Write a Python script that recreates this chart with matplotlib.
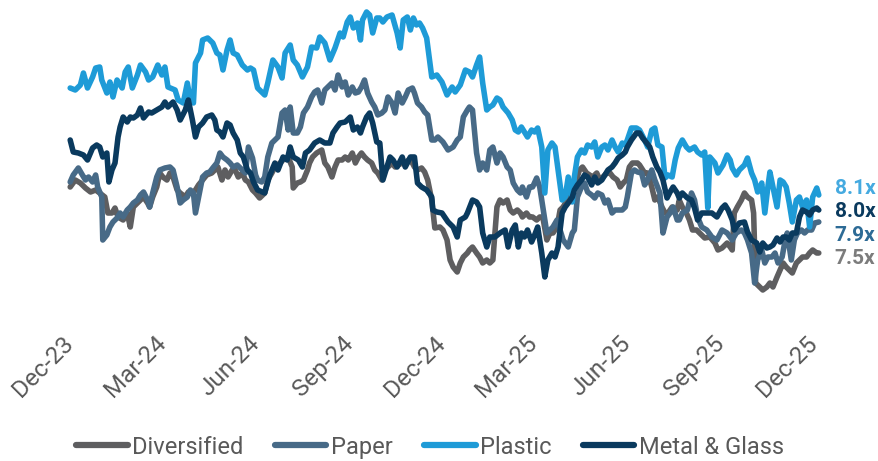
import numpy as np
import matplotlib
matplotlib.use("Agg")
import matplotlib.pyplot as plt
import matplotlib.transforms as mtransforms

# ---------------- data (days since 2023-12-01, EV/EBITDA multiple) ----------------
start_date = "2023-12-01"

series_names = ["Diversified", "Paper", "Plastic", "Metal & Glass"]

diversified_days = [0, 5, 10, 15, 20, 25, 29, 34, 37, 41,
                    44, 47, 52, 56, 59, 62, 66, 69, 72, 76,
                    78, 81, 85, 88, 91, 95, 98, 101, 105, 108,
                    113, 116, 120, 123, 126, 130, 134, 139, 142, 145,
                    149, 152, 155, 159, 162, 165, 169, 172, 175, 179,
                    182, 186, 191, 194, 198, 201, 206, 211, 214, 218,
                    219, 223, 226, 229, 233, 235, 238, 242, 247, 250,
                    253, 257, 260, 263, 267, 270, 273, 277, 280, 283,
                    286, 289, 292, 296, 299, 302, 306, 309, 312, 316,
                    319, 322, 326, 329, 332, 336, 338, 341, 345, 348,
                    351, 355, 358, 363, 366, 370, 373, 376, 380, 383,
                    386, 390, 392, 395, 399, 402, 405, 409, 412, 415,
                    419, 422, 425, 429, 432, 435, 439, 442, 444, 448,
                    451, 454, 458, 461, 464, 468, 471, 474, 478, 481,
                    484, 488, 491, 494, 497, 500, 503, 507, 510, 513,
                    517, 520, 523, 527, 530, 533, 537, 540, 543, 546,
                    549, 552, 557, 559, 564, 567, 571, 574, 577, 581,
                    584, 587, 591, 596, 598, 601, 605, 608, 611, 615,
                    618, 623, 628, 633, 636, 640, 645, 648, 650, 652,
                    655, 659, 662, 665, 669, 671, 673, 677, 680, 684,
                    687, 690, 694, 697, 700, 703, 706, 709, 713, 716,
                    719, 723, 726, 729, 733, 735]
diversified_vals = [8.23, 8.30, 8.27, 8.22, 8.18, 8.20, 8.17, 8.13, 7.97, 7.97,
                    8.02, 7.93, 7.90, 7.97, 7.83, 8.03, 8.07, 8.10, 8.13, 8.07,
                    8.03, 8.13, 8.23, 8.37, 8.33, 8.30, 8.37, 8.33, 8.20, 8.17,
                    8.13, 8.18, 8.17, 8.20, 8.25, 8.30, 8.35, 8.37, 8.40, 8.43,
                    8.30, 8.40, 8.33, 8.40, 8.40, 8.33, 8.37, 8.30, 8.28, 8.20,
                    8.17, 8.12, 8.17, 8.30, 8.37, 8.43, 8.47, 8.52, 8.53, 8.43,
                    8.22, 8.27, 8.28, 8.30, 8.40, 8.47, 8.53, 8.57, 8.60, 8.47,
                    8.43, 8.33, 8.43, 8.50, 8.50, 8.53, 8.50, 8.57, 8.47, 8.53,
                    8.57, 8.53, 8.50, 8.47, 8.40, 8.37, 8.30, 8.40, 8.43, 8.47,
                    8.43, 8.45, 8.47, 8.45, 8.50, 8.47, 8.43, 8.40, 8.42, 8.38,
                    8.30, 8.10, 7.82, 7.83, 7.80, 7.70, 7.50, 7.43, 7.38, 7.47,
                    7.53, 7.57, 7.60, 7.63, 7.57, 7.53, 7.47, 7.50, 7.47, 7.50,
                    8.03, 8.10, 8.07, 8.10, 8.00, 7.97, 8.00, 7.97, 7.93, 7.97,
                    7.93, 7.93, 7.90, 7.93, 7.93, 7.70, 7.77, 7.77, 7.83, 8.00,
                    8.03, 8.10, 8.17, 8.23, 8.30, 8.40, 8.43, 8.37, 8.35, 8.33,
                    8.37, 8.30, 8.33, 8.37, 8.37, 8.33, 8.30, 8.23, 8.27, 8.30,
                    8.43, 8.47, 8.47, 8.45, 8.37, 8.37, 8.23, 8.10, 8.13, 8.03,
                    7.97, 7.97, 8.03, 8.00, 8.10, 8.03, 7.97, 7.90, 7.80, 7.80,
                    7.77, 7.72, 7.73, 7.67, 7.60, 7.62, 7.67, 7.63, 7.60, 7.97,
                    8.03, 8.10, 8.17, 8.13, 8.10, 7.97, 7.27, 7.23, 7.20, 7.23,
                    7.27, 7.23, 7.33, 7.40, 7.47, 7.43, 7.40, 7.37, 7.47, 7.50,
                    7.53, 7.53, 7.57, 7.60, 7.57, 7.57]

paper_days = [0, 3, 8, 12, 15, 18, 22, 25, 27, 31,
              32, 36, 39, 42, 46, 49, 52, 56, 59, 62,
              66, 69, 72, 76, 78, 81, 85, 88, 93, 98,
              101, 105, 108, 111, 115, 118, 121, 123, 128, 130,
              134, 137, 140, 144, 147, 150, 154, 157, 160, 164,
              169, 172, 175, 179, 182, 184, 188, 191, 194, 198,
              201, 204, 208, 211, 214, 216, 219, 223, 226, 229,
              233, 237, 240, 243, 247, 250, 253, 257, 260, 263,
              267, 270, 273, 277, 280, 283, 286, 289, 292, 296,
              299, 302, 306, 309, 312, 316, 319, 322, 326, 329,
              332, 336, 338, 341, 345, 348, 351, 355, 358, 361,
              366, 371, 376, 380, 383, 386, 390, 392, 395, 399,
              402, 405, 409, 412, 415, 419, 422, 425, 429, 432,
              435, 439, 442, 444, 448, 451, 454, 458, 461, 464,
              468, 471, 474, 478, 481, 484, 489, 493, 495, 498,
              502, 505, 508, 512, 515, 518, 522, 525, 528, 532,
              535, 538, 542, 545, 547, 551, 554, 557, 561, 564,
              567, 571, 574, 579, 582, 586, 589, 592, 596, 598,
              601, 606, 610, 613, 616, 620, 625, 630, 635, 640,
              645, 650, 654, 659, 662, 665, 669, 672, 675, 679,
              682, 685, 689, 692, 695, 699, 702, 704, 708, 711,
              714, 718, 721, 724, 728, 731, 735]
paper_vals = [8.28, 8.35, 8.42, 8.35, 8.30, 8.33, 8.28, 8.35, 8.23, 8.13,
              7.70, 7.75, 7.83, 7.88, 7.92, 7.97, 7.93, 8.00, 8.03, 8.07,
              8.10, 8.15, 8.18, 8.10, 8.03, 8.17, 8.33, 8.40, 8.42, 8.43,
              8.40, 8.23, 8.07, 8.10, 8.13, 8.20, 8.17, 7.97, 8.23, 8.33,
              8.37, 8.38, 8.42, 8.47, 8.57, 8.53, 8.50, 8.47, 8.43, 8.45,
              8.40, 8.37, 8.63, 8.52, 8.35, 8.30, 8.28, 8.33, 8.53, 8.67,
              8.70, 8.73, 8.97, 9.00, 8.80, 9.03, 8.77, 8.77, 8.83, 8.97,
              9.03, 9.13, 9.18, 9.20, 9.07, 9.20, 9.23, 9.27, 9.20, 9.35,
              9.23, 9.28, 9.15, 9.23, 9.17, 9.18, 9.23, 9.30, 9.17, 9.08,
              9.03, 8.95, 8.97, 9.00, 9.13, 9.07, 8.97, 9.17, 9.07, 9.13,
              9.20, 9.22, 9.17, 9.07, 9.03, 8.98, 8.95, 8.70, 8.70, 8.73,
              8.68, 8.60, 8.63, 8.70, 8.73, 8.93, 9.00, 9.03, 9.00, 8.57,
              8.40, 8.47, 8.40, 8.60, 8.63, 8.47, 8.57, 8.53, 8.43, 8.40,
              8.27, 8.20, 8.17, 8.23, 8.13, 8.23, 8.23, 8.32, 8.23, 8.03,
              7.77, 7.80, 7.83, 7.90, 7.80, 7.70, 7.63, 7.77, 7.80, 8.13,
              8.23, 8.27, 8.18, 8.15, 8.12, 8.17, 8.15, 8.07, 8.10, 7.97,
              8.00, 8.00, 8.00, 8.03, 8.13, 8.37, 8.40, 8.38, 8.37, 8.25,
              8.30, 8.40, 8.30, 8.17, 7.77, 7.93, 7.97, 8.03, 7.90, 7.90,
              7.97, 8.00, 8.17, 8.10, 7.93, 7.83, 7.80, 7.73, 7.70, 7.80,
              7.77, 7.70, 7.77, 7.80, 7.77, 7.70, 7.57, 7.27, 7.50, 7.60,
              7.47, 7.53, 7.53, 7.57, 7.47, 7.53, 7.70, 7.77, 7.50, 7.70,
              7.77, 7.80, 7.77, 7.80, 7.80, 7.87, 7.88]

plastic_days = [0, 5, 10, 13, 17, 22, 25, 29, 31, 36,
                39, 42, 46, 51, 54, 57, 61, 66, 69, 74,
                77, 81, 86, 90, 93, 96, 103, 106, 111, 115,
                118, 121, 123, 128, 130, 135, 140, 144, 147, 150,
                154, 157, 160, 164, 169, 174, 177, 180, 184, 191,
                194, 199, 204, 208, 211, 216, 219, 223, 228, 233,
                237, 242, 245, 250, 255, 260, 265, 268, 272, 275,
                278, 282, 285, 287, 291, 294, 297, 301, 304, 307,
                311, 316, 321, 324, 327, 331, 334, 337, 340, 343,
                346, 350, 355, 360, 365, 370, 375, 378, 383, 388,
                392, 395, 399, 402, 405, 409, 412, 415, 419, 422,
                425, 430, 434, 437, 440, 443, 446, 449, 453, 456,
                459, 463, 466, 469, 473, 476, 479, 483, 486, 489,
                493, 495, 498, 502, 505, 508, 512, 515, 518, 522,
                525, 528, 532, 535, 538, 542, 545, 547, 551, 556,
                559, 564, 567, 571, 574, 577, 581, 584, 587, 591,
                594, 597, 601, 605, 608, 613, 616, 620, 623, 626,
                628, 633, 636, 641, 645, 648, 650, 654, 657, 662,
                665, 669, 672, 675, 679, 682, 685, 687, 690, 694,
                697, 700, 703, 706, 709, 713, 716, 719, 723, 726,
                729, 733, 735]
plastic_vals = [9.22, 9.20, 9.25, 9.37, 9.22, 9.33, 9.42, 9.43, 9.30, 9.17,
                9.28, 9.13, 9.30, 9.22, 9.38, 9.43, 9.22, 9.35, 9.45, 9.38,
                9.30, 9.33, 9.45, 9.35, 9.43, 9.23, 9.20, 9.10, 9.07, 9.27,
                9.10, 9.07, 9.47, 9.57, 9.70, 9.72, 9.67, 9.57, 9.55, 9.40,
                9.60, 9.70, 9.57, 9.55, 9.45, 9.40, 9.42, 9.40, 9.22, 9.15,
                9.27, 9.50, 9.43, 9.32, 9.57, 9.65, 9.50, 9.45, 9.33, 9.43,
                9.63, 9.62, 9.73, 9.67, 9.50, 9.62, 9.77, 9.73, 9.88, 9.93,
                9.82, 9.87, 9.70, 9.90, 9.98, 9.95, 9.77, 9.92, 9.92, 9.88,
                9.93, 9.95, 9.77, 9.62, 9.90, 9.93, 9.80, 9.92, 9.85, 9.87,
                9.82, 9.72, 9.33, 9.35, 9.28, 9.15, 9.23, 9.18, 9.25, 9.40,
                9.38, 9.33, 9.45, 9.53, 9.27, 9.00, 9.03, 9.05, 9.12, 9.10,
                9.03, 8.97, 8.90, 8.80, 8.78, 8.83, 8.78, 8.73, 8.80, 8.78,
                8.82, 8.63, 8.17, 8.60, 8.67, 8.63, 8.40, 8.10, 8.13, 8.33,
                8.08, 8.33, 8.53, 8.60, 8.57, 8.65, 8.63, 8.68, 8.53, 8.63,
                8.65, 8.60, 8.70, 8.63, 8.58, 8.67, 8.65, 8.70, 8.82, 8.82,
                8.80, 8.70, 8.63, 8.80, 8.82, 8.65, 8.63, 8.32, 8.35, 8.33,
                8.50, 8.62, 8.70, 8.63, 8.60, 8.63, 8.58, 8.55, 8.58, 8.02,
                8.53, 8.47, 8.37, 8.45, 8.55, 8.50, 8.42, 8.35, 8.40, 8.45,
                8.52, 8.37, 8.30, 8.18, 8.27, 7.97, 8.23, 8.38, 8.23, 8.03,
                8.30, 8.28, 8.23, 8.07, 7.88, 8.10, 8.13, 8.03, 8.10, 7.83,
                8.13, 8.22, 8.15]

metal_days = [0, 3, 8, 13, 17, 22, 26, 29, 32, 36,
              38, 41, 44, 47, 49, 52, 56, 59, 62, 66,
              69, 72, 77, 80, 85, 90, 93, 96, 101, 105,
              108, 113, 116, 120, 123, 126, 130, 134, 139, 142,
              144, 147, 150, 154, 157, 160, 164, 167, 170, 174,
              177, 180, 184, 191, 196, 201, 204, 209, 213, 216,
              219, 224, 228, 231, 235, 240, 245, 250, 255, 258,
              262, 265, 270, 275, 278, 282, 285, 287, 291, 294,
              297, 301, 304, 307, 311, 314, 317, 321, 326, 329,
              334, 338, 341, 345, 350, 355, 356, 360, 365, 371,
              376, 380, 383, 388, 390, 395, 399, 402, 405, 409,
              412, 417, 422, 427, 430, 434, 437, 440, 443, 446,
              449, 453, 456, 459, 463, 466, 469, 473, 476, 479,
              483, 486, 489, 493, 495, 498, 502, 505, 508, 512,
              515, 518, 522, 525, 528, 532, 535, 538, 542, 545,
              547, 551, 556, 559, 562, 566, 569, 572, 576, 579,
              582, 586, 589, 592, 596, 598, 601, 606, 610, 613,
              616, 620, 625, 630, 635, 640, 643, 646, 650, 652,
              657, 662, 665, 669, 674, 677, 680, 684, 687, 690,
              694, 697, 700, 703, 706, 709, 713, 716, 719, 723,
              726, 729, 733, 735]
metal_vals = [8.70, 8.58, 8.57, 8.55, 8.50, 8.62, 8.65, 8.63, 8.53, 8.57,
              8.28, 8.40, 8.47, 8.73, 8.83, 8.93, 8.88, 8.93, 8.92, 8.95,
              9.02, 8.92, 8.98, 8.97, 9.00, 9.03, 9.08, 9.03, 9.08, 9.00,
              8.90, 9.00, 9.10, 8.90, 8.73, 8.83, 8.87, 8.93, 8.95, 8.90,
              8.80, 8.78, 8.73, 8.87, 8.85, 8.77, 8.70, 8.57, 8.53, 8.40,
              8.37, 8.28, 8.20, 8.17, 8.35, 8.47, 8.40, 8.53, 8.50, 8.63,
              8.53, 8.50, 8.43, 8.57, 8.60, 8.67, 8.70, 8.67, 8.67, 8.77,
              8.83, 8.87, 8.88, 8.93, 8.80, 8.83, 8.77, 8.83, 8.93, 8.97,
              8.87, 8.68, 8.67, 8.30, 8.43, 8.53, 8.50, 8.43, 8.53, 8.43,
              8.53, 8.53, 8.27, 8.23, 8.20, 8.13, 8.00, 7.98, 7.97, 7.88,
              7.83, 7.73, 7.90, 7.93, 7.97, 8.10, 8.08, 8.03, 7.77, 7.63,
              7.73, 7.73, 7.77, 7.80, 7.63, 7.80, 7.85, 7.63, 7.77, 7.73,
              7.80, 7.68, 7.75, 7.83, 7.57, 7.33, 7.50, 7.57, 7.53, 7.63,
              7.97, 8.03, 8.07, 8.13, 8.20, 8.25, 8.30, 8.35, 8.33, 8.25,
              8.33, 8.27, 8.30, 8.35, 8.40, 8.43, 8.47, 8.52, 8.55, 8.58,
              8.63, 8.70, 8.77, 8.77, 8.72, 8.67, 8.63, 8.53, 8.43, 8.38,
              8.30, 8.12, 8.18, 8.23, 8.17, 8.12, 8.17, 8.12, 8.10, 8.02,
              7.90, 7.97, 7.97, 7.97, 7.93, 8.02, 8.05, 8.00, 7.90, 7.80,
              7.87, 7.88, 7.78, 7.70, 7.67, 7.58, 7.67, 7.62, 7.63, 7.65,
              7.72, 7.68, 7.73, 7.73, 7.70, 7.77, 7.77, 7.93, 8.00, 7.98,
              7.95, 8.00, 8.02, 8.00]

end_labels = ["7.5x", "7.9x", "8.1x", "8.0x"]

tick_dates = ["2023-12-01", "2024-03-01", "2024-06-01", "2024-09-01", "2024-12-01",
              "2025-03-01", "2025-06-01", "2025-09-01", "2025-12-01"]
tick_labels = ["Dec-23", "Mar-24", "Jun-24", "Sep-24", "Dec-24",
               "Mar-25", "Jun-25", "Sep-25", "Dec-25"]

# ---------------- style ----------------
line_colors = ["#5E5E60", "#476A87", "#1E9BD7", "#0A3A5E"]
label_colors = ["#7C7C7C", "#2D6B96", "#45AAE0", "#0A3A5E"]
text_gray = "#595959"
FONT = ["Roboto", "DejaVu Sans"]
plt.rcParams["font.family"] = FONT

fig = plt.figure(figsize=(8.79, 4.61), dpi=100)
W, H = 879, 461
ax = fig.add_axes([60 / W, 1 - 330 / H, 770 / W, 330 / H])

t0 = np.datetime64(start_date)
all_days = [diversified_days, paper_days, plastic_days, metal_days]
all_vals = [diversified_vals, paper_vals, plastic_vals, metal_vals]

for name, d, v, c in zip(series_names, all_days, all_vals, line_colors):
    n = min(len(d), len(v))
    dates = t0 + np.array(d[:n], dtype="timedelta64[D]")
    ax.plot(dates, v[:n], color=c, lw=4.0, label=name,
            solid_joinstyle="round", solid_capstyle="round")

ax.set_xlim(t0 - np.timedelta64(10, "D"), t0 + np.timedelta64(746, "D"))
ax.set_ylim(6.80, 10.10)

ax.set_xticks([np.datetime64(t) for t in tick_dates])
ax.set_xticklabels(tick_labels, rotation=45, ha="right", va="top",
                   rotation_mode="anchor", fontsize=17.5, color=text_gray)
ax.tick_params(axis="x", length=0, pad=1)
shift = mtransforms.ScaledTranslation(-9 / 100, 0 / 100, fig.dpi_scale_trans)
for lbl in ax.get_xticklabels():
    lbl.set_transform(lbl.get_transform() + shift)
ax.set_yticks([])
for s in ax.spines.values():
    s.set_visible(False)

# ---------------- end labels (de-overlapped) ----------------
ends = [v[-1] for v in all_vals]
order = np.argsort(ends)
pos = np.array(ends, dtype=float)
gap = 0.235
for _ in range(300):
    moved = False
    for a, b in zip(order[:-1], order[1:]):
        if pos[b] - pos[a] < gap:
            delta = (gap - (pos[b] - pos[a])) / 2
            pos[a] -= delta
            pos[b] += delta
            moved = True
    if not moved:
        break

end_x = t0 + np.array(max(d[-1] for d in all_days), dtype="timedelta64[D]")
for lab, y, c in zip(end_labels, pos, label_colors):
    ax.annotate(lab, xy=(end_x, y), xytext=(11.5, -2.5), textcoords="offset points",
                ha="left", va="center", fontsize=15, fontweight="bold",
                color=c, annotation_clip=False)

# ---------------- legend ----------------
leg = fig.legend(loc="center", bbox_to_anchor=(430 / W, 1 - 447 / H), ncol=4,
                 frameon=False, fontsize=17, handlelength=2.2, handletextpad=0.2,
                 columnspacing=1.3, labelcolor=text_gray)
for h in leg.get_lines():
    h.set_linewidth(4.5)
    h.set_solid_capstyle("round")

fig.savefig("out.png", dpi=100)
